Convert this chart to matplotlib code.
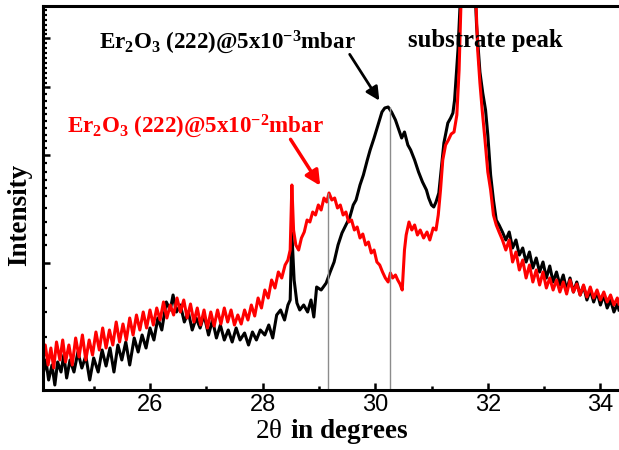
import numpy as np
import matplotlib
matplotlib.use('Agg')
from matplotlib import pyplot as plt

plt.rcParams['mathtext.fontset'] = 'custom'
plt.rcParams['mathtext.rm'] = 'Liberation Serif'
plt.rcParams['mathtext.it'] = 'Liberation Serif:italic'
plt.rcParams['mathtext.bf'] = 'Liberation Serif:bold'

# ---------- data (intensity in arbitrary units) ----------
black_x = [24.10, 24.15, 24.20, 24.26, 24.31, 24.36, 24.42, 24.47, 24.52, 24.58,
           24.65, 24.72, 24.79, 24.86, 24.93, 25.00, 25.08, 25.15, 25.22, 25.29,
           25.36, 25.43, 25.50, 25.57, 25.64, 25.72, 25.79, 25.86, 25.93, 26.00,
           26.07, 26.14, 26.21, 26.29, 26.36, 26.41, 26.47, 26.54, 26.61, 26.68,
           26.75, 26.82, 26.89, 26.96, 27.04, 27.11, 27.18, 27.25, 27.32, 27.39,
           27.46, 27.53, 27.60, 27.68, 27.75, 27.82, 27.89, 27.96, 28.04, 28.11,
           28.18, 28.25, 28.32, 28.39, 28.45, 28.49, 28.52, 28.56, 28.61, 28.66,
           28.73, 28.80, 28.86, 28.91, 28.96, 29.04, 29.13, 29.20, 29.27, 29.34,
           29.41, 29.48, 29.55, 29.61, 29.66, 29.73, 29.79, 29.86, 29.91, 29.98,
           30.05, 30.12, 30.17, 30.23, 30.29, 30.36, 30.42, 30.47, 30.52, 30.58,
           30.63, 30.70, 30.77, 30.84, 30.91, 30.95, 31.00, 31.04, 31.08, 31.13,
           31.18, 31.22, 31.29, 31.34, 31.38, 31.41, 31.47, 31.52, 31.58, 31.66,
           31.72, 31.76, 31.80, 31.86, 31.91, 31.96, 32.00, 32.05, 32.10, 32.15,
           32.20, 32.26, 32.32, 32.38, 32.44, 32.50, 32.56, 32.62, 32.68, 32.74,
           32.80, 32.86, 32.92, 32.98, 33.04, 33.10, 33.16, 33.22, 33.28, 33.34,
           33.40, 33.46, 33.52, 33.58, 33.64, 33.70, 33.76, 33.82, 33.88, 33.94,
           34.00, 34.06, 34.12, 34.18, 34.24, 34.30, 34.33]
black_y = [15, 30, 10, 25, 5, 28, 18, 35, 12, 30,
           18, 38, 22, 34, 10, 32, 18, 40, 24, 42,
           18, 45, 30, 48, 25, 52, 38, 55, 42, 62,
           50, 72, 60, 88, 80, 95, 78, 85, 68, 78,
           60, 72, 62, 75, 55, 70, 52, 65, 50, 60,
           48, 62, 50, 57, 45, 58, 50, 60, 55, 65,
           52, 75, 80, 70, 85, 90, 157, 110, 87, 80,
           85, 78, 90, 73, 103, 100, 107, 118, 128, 145,
           157, 165, 173, 185, 190, 205, 215, 230, 240, 252,
           265, 278, 282, 283, 278, 270, 260, 252, 258, 245,
           240, 230, 218, 208, 200, 192, 185, 183, 188, 197,
           225, 247, 267, 272, 277, 290, 340, 400, 550, 700,
           600, 420, 365, 318, 297, 280, 255, 215, 190, 170,
           165, 158, 150, 158, 142, 150, 135, 142, 128, 138,
           122, 132, 118, 128, 112, 124, 108, 118, 105, 115,
           100, 112, 98, 108, 95, 104, 90, 100, 88, 98,
           85, 95, 82, 90, 78, 86, 80]

red_x = [24.10, 24.14, 24.19, 24.24, 24.29, 24.34, 24.40, 24.45, 24.50, 24.56,
         24.62, 24.68, 24.74, 24.80, 24.86, 24.92, 24.98, 25.04, 25.10, 25.16,
         25.22, 25.28, 25.34, 25.40, 25.46, 25.52, 25.58, 25.64, 25.70, 25.76,
         25.82, 25.88, 25.94, 26.00, 26.06, 26.12, 26.18, 26.24, 26.30, 26.36,
         26.42, 26.48, 26.54, 26.60, 26.66, 26.72, 26.78, 26.84, 26.90, 26.96,
         27.02, 27.08, 27.14, 27.20, 27.26, 27.32, 27.38, 27.44, 27.50, 27.56,
         27.62, 27.68, 27.74, 27.80, 27.86, 27.92, 27.98, 28.04, 28.10, 28.16,
         28.22, 28.28, 28.34, 28.40, 28.45, 28.49, 28.52, 28.55, 28.59, 28.64,
         28.69, 28.74, 28.79, 28.84, 28.89, 28.94, 28.99, 29.04, 29.09, 29.14,
         29.18, 29.23, 29.28, 29.33, 29.38, 29.43, 29.48, 29.53, 29.58, 29.63,
         29.68, 29.73, 29.78, 29.83, 29.88, 29.93, 29.98, 30.03, 30.08, 30.13,
         30.18, 30.23, 30.27, 30.31, 30.36, 30.40, 30.44, 30.48, 30.52, 30.55,
         30.60, 30.65, 30.70, 30.75, 30.80, 30.86, 30.92, 30.97, 31.03, 31.08,
         31.12, 31.16, 31.20, 31.25, 31.30, 31.35, 31.40, 31.45, 31.49, 31.53,
         31.58, 31.65, 31.72, 31.77, 31.82, 31.86, 31.90, 31.95, 32.00, 32.05,
         32.10, 32.15, 32.20, 32.26, 32.32, 32.38, 32.44, 32.50, 32.56, 32.62,
         32.68, 32.74, 32.80, 32.86, 32.92, 32.98, 33.04, 33.10, 33.16, 33.22,
         33.28, 33.34, 33.40, 33.46, 33.52, 33.58, 33.64, 33.70, 33.76, 33.82,
         33.88, 33.94, 34.00, 34.06, 34.12, 34.18, 34.24, 34.30, 34.33]
red_y = [30, 45, 25, 42, 22, 48, 30, 50, 28, 45,
         25, 52, 33, 55, 30, 50, 35, 58, 40, 62,
         42, 60, 45, 68, 48, 66, 50, 72, 55, 75,
         60, 78, 62, 80, 65, 82, 70, 88, 72, 85,
         75, 92, 78, 90, 72, 86, 68, 82, 65, 80,
         62, 78, 64, 80, 66, 82, 68, 80, 65, 75,
         66, 80, 70, 85, 74, 92, 82, 100, 92, 110,
         102, 118, 112, 125, 130, 140, 205, 160, 145, 140,
         152, 158, 170, 168, 178, 175, 185, 180, 192, 188,
         197, 190, 192, 182, 185, 175, 178, 168, 170, 160,
         163, 152, 156, 145, 148, 137, 140, 128, 125, 118,
         112, 108, 117, 112, 115, 110, 106, 100, 140, 155,
         168, 160, 165, 155, 160, 152, 158, 150, 162, 160,
         175, 200, 230, 245, 250, 256, 258, 275, 320, 400,
         520, 700, 620, 420, 340, 307, 280, 250, 218, 200,
         175, 165, 158, 150, 140, 150, 128, 138, 120, 130,
         112, 125, 108, 120, 105, 118, 102, 112, 100, 110,
         98, 108, 96, 110, 98, 106, 95, 105, 93, 103,
         92, 100, 90, 98, 88, 95, 85, 92, 86]

peak_pos = [29.16, 30.26]
peak_top = [197, 283]

y_major = [127, 235, 303, 352]
y_minor = [380, 375, 370, 365, 360, 356, 347, 342, 337, 332, 327, 322, 317, 312,
           307, 296, 289, 282, 276, 269, 262, 255, 249, 242, 227, 218, 210, 202,
           194, 182, 168, 155, 145, 102, 78, 53]

fig = plt.figure(figsize=(6.19, 4.5), dpi=100)
ax = fig.add_axes([43/619, 1 - 390/450, 1 - 43/619, 384/450])

ax.plot(black_x, black_y, color='black', lw=2.2)
ax.plot(red_x, red_y, color='#ff0000', lw=2.2)
ax.vlines(peak_pos, 0, peak_top, color='#8c8c8c', lw=1.0)

ax.set_xlim(24.1, 34.33)
ax.set_ylim(0, 384)

ax.set_xticks([26, 28, 30, 32, 34])
ax.set_xticks([25, 27, 29, 31, 33], minor=True)
ax.set_yticks(y_major)
ax.set_yticks(y_minor, minor=True)
ax.set_yticklabels([])
ax.tick_params(axis='x', which='major', direction='in', length=5, width=1.8,
               labelsize=17, pad=3)
ax.tick_params(axis='x', which='minor', direction='in', length=3, width=1.8)
ax.tick_params(axis='y', which='major', direction='in', length=5, width=1.8)
ax.tick_params(axis='y', which='minor', direction='in', length=3, width=1.6)
for lab in ax.get_xticklabels():
    lab.set_fontfamily('Liberation Sans')

for s in ['left', 'bottom', 'top']:
    ax.spines[s].set_linewidth(2.2)
ax.spines['right'].set_visible(False)

# annotations
ax.text(25.09, 342, r'$\mathbf{Er_{2}O_{3}\ (222)@5x10^{-3}mbar}$', color='black',
        fontsize=16.6, ha='left', va='baseline')
ax.text(24.53, 258, r'$\mathbf{Er_{2}O_{3}\ (222)@5x10^{-2}mbar}$', color='#ff0000',
        fontsize=16.6, ha='left', va='baseline')
ax.text(30.58, 343, 'substrate peak', color='black', fontsize=17.8,
        fontfamily='Liberation Serif', fontweight='bold', ha='left', va='baseline')

ax.annotate('', xy=(30.10, 287), xytext=(29.52, 338),
            arrowprops=dict(arrowstyle='-|>', lw=2, color='black', mutation_scale=20))
ax.annotate('', xy=(29.05, 202), xytext=(28.47, 253),
            arrowprops=dict(arrowstyle='-|>', lw=2.5, color='#ff0000', mutation_scale=22))

fig.text(332/619, 1 - 432/450, r'$\mathrm{2\theta}$ $\mathbf{in\ degrees}$',
         fontsize=19.5, ha='center', va='center')
fig.text(20/619, 1 - 215/450, 'Intensity', rotation=90, fontsize=19.5,
         fontfamily='Liberation Serif', fontweight='bold', ha='center', va='center')

fig.savefig('out.png', dpi=100)
